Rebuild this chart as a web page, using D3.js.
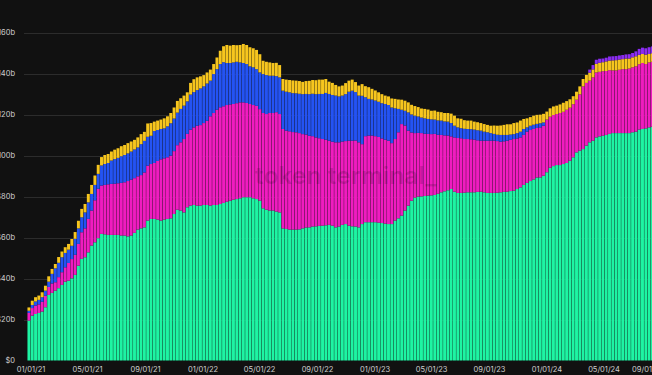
<!DOCTYPE html>
<html><head><meta charset="utf-8">
<script src="https://cdn.jsdelivr.net/npm/d3@7"></script>
<style>
html,body{margin:0;padding:0;background:#111111;}
svg{display:block;}
</style></head>
<body>
<svg id="chart" width="652" height="375"></svg>
<script>
// Weekly stablecoin supply (billions USD), first week starting 2020-12-28
const firstWeek = "2020-12-28";
const seriesNames = ["Tether", "USD Coin", "Binance USD", "Dai", "Ethena USDe"];
const seriesColors = ["#1ef4a3", "#f01cc0", "#2453f3", "#f7c61e", "#8b2cf2"];

const tether = [19.5,21.9,22.7,23.2,23.9,26.0,32.0,33.0,34.1,35.3,36.9,38.5,39.0,40.1,41.8,46.3,49.6,50.4,52.8,56.1,57.7,59.7,61.8,61.6,61.3,61.3,61.3,61.3,61.0,61.0,60.6,61.0,62.3,63.9,64.5,65.0,68.3,69.1,
69.1,68.8,68.3,68.8,69.1,69.4,71.5,73.6,73.2,72.3,74.8,75.6,75.9,75.6,75.6,75.9,75.9,75.6,75.9,75.9,76.4,76.9,77.5,78.0,78.5,78.8,79.2,79.7,79.7,79.7,79.2,78.8,78.0,74.3,73.6,73.2,73.2,72.7,72.3,
64.5,64.2,63.9,63.9,63.9,64.0,64.5,64.9,65.0,65.4,65.5,65.7,65.8,66.0,66.2,65.8,65.0,65.4,66.2,66.6,65.8,65.5,65.4,65.0,66.6,67.5,67.5,67.5,67.5,67.3,67.1,66.8,66.6,66.6,68.3,69.4,70.7,
73.2,75.6,78.0,79.5,80.0,80.1,80.3,80.5,80.6,80.8,81.4,82.1,82.6,83.1,83.7,82.4,81.8,81.8,81.9,82.1,82.1,82.1,82.3,82.4,82.1,81.8,81.8,81.8,81.9,82.1,82.3,82.4,82.7,82.9,83.7,84.5,85.7,86.7,
87.6,88.4,89.3,89.4,90.2,91.9,94.1,94.9,95.4,95.4,95.9,96.4,97.5,99.2,101.6,102.4,103.2,104.9,106.5,107.3,108.9,109.4,109.7,110.1,110.6,111.0,111.0,111.0,111.0,111.0,111.0,111.4,111.7,112.7,113.0,113.3,113.8,114.1];

const usdCoin = [3.7,3.7,4.1,4.2,4.8,5.6,3.9,4.6,4.1,5.4,6.2,7.0,8.6,9.4,9.8,10.6,13.0,14.1,16.3,17.1,20.5,24.1,23.6,24.1,24.7,24.9,25.0,25.2,25.7,26.0,27.0,27.3,26.7,26.0,26.0,26.8,26.8,26.8,
27.3,28.6,29.9,29.9,30.1,30.6,30.7,31.5,33.3,35.8,35.8,37.1,37.9,39.0,39.3,40.0,41.1,43.6,44.9,46.5,47.2,47.2,47.2,47.0,46.7,46.8,46.8,46.3,46.0,45.5,45.5,45.5,44.7,46.5,46.7,47.6,47.6,48.5,48.0,
48.5,48.0,48.0,47.6,47.5,47.0,46.0,45.4,44.7,44.1,43.4,42.8,42.3,41.8,41.1,41.0,41.5,41.1,40.7,40.5,41.5,41.8,42.0,41.5,39.0,42.0,42.3,42.3,42.0,41.8,41.3,41.0,40.7,39.5,39.8,42.0,44.7,
41.5,36.6,33.3,31.5,31.1,30.9,30.4,30.1,29.9,29.8,28.8,28.0,27.3,26.7,25.7,26.5,26.8,26.7,26.2,26.0,25.9,25.7,25.2,24.9,25.2,25.5,25.5,25.5,25.2,24.7,24.7,24.9,25.0,25.2,24.7,24.4,24.4,25.0,
24.9,24.6,24.2,24.4,24.4,25.7,24.9,24.9,24.9,25.4,25.5,26.0,25.9,25.9,25.7,27.5,30.6,30.6,30.1,30.9,31.7,31.5,31.5,31.2,31.1,30.6,30.6,30.9,31.2,31.2,31.5,31.7,31.9,31.9,32.2,31.4,31.7,31.7];

const binanceUsd = [1.1,1.5,2.0,2.2,2.2,2.5,2.6,4.7,6.8,7.0,7.3,7.0,6.5,6.5,7.8,7.6,7.3,7.8,8.1,8.1,7.5,7.3,9.8,10.2,10.4,11.4,12.0,12.4,13.0,13.3,13.5,13.7,14.0,14.1,15.1,15.4,14.1,13.8,
15.6,15.1,14.8,14.6,15.1,15.8,15.9,15.9,16.3,16.3,15.9,17.1,17.2,17.4,17.9,17.9,18.2,17.4,19.0,19.8,21.1,21.5,20.5,20.2,20.3,20.2,19.5,19.2,19.0,18.4,18.4,17.9,17.9,19.0,19.0,18.2,18.2,17.6,17.9,
18.7,19.0,19.0,19.0,19.0,19.2,19.5,19.8,20.3,20.7,21.1,21.6,22.0,22.8,22.8,22.8,22.8,22.4,22.4,22.9,23.9,24.4,23.6,22.8,23.6,19.0,17.9,17.6,17.4,17.2,17.2,17.4,17.4,17.4,15.0,11.4,7.0,
7.2,8.9,8.8,8.5,8.0,7.6,7.5,7.3,7.2,7.0,7.0,7.0,6.8,6.8,6.5,5.7,5.2,4.9,5.0,4.9,4.9,4.9,4.9,4.9,4.4,4.1,3.7,3.3,3.1,3.3,3.1,2.8,2.6,2.4,2.6,2.8,2.9,2.1,
2.1,2.1,2.0,2.0,1.6,0,0,0,0,0,0,0,0,0,0,0,0,0,0,0,0,0,0,0,0,0,0,0,0,0,0,0,0,0,0,0,0,0];

const dai = [1.6,2.1,2.1,2.1,2.4,2.4,2.6,2.4,2.1,2.8,2.8,2.8,2.8,3.3,3.3,3.7,4.1,4.1,4.1,4.4,4.6,4.4,4.1,4.4,4.4,4.4,4.6,4.7,4.9,4.9,5.0,4.9,4.7,4.9,4.9,4.4,6.5,6.2,
4.6,4.6,4.6,4.9,4.9,5.0,5.4,5.7,5.2,4.9,4.4,5.7,6.3,6.2,5.9,5.5,5.4,5.4,4.9,5.7,6.5,7.8,8.8,8.5,8.5,8.1,8.5,9.3,9.3,9.3,9.3,9.4,8.9,6.5,6.5,6.5,6.2,6.5,6.0,
5.7,5.9,6.0,6.2,6.2,6.2,6.0,6.3,6.5,6.7,6.8,7.0,7.0,6.8,6.0,5.9,5.2,4.9,4.9,5.4,5.4,5.4,4.9,4.9,5.7,5.4,5.7,5.2,4.9,4.6,4.4,4.1,4.2,4.4,4.6,4.6,4.9,
4.9,4.9,4.7,4.7,4.6,4.4,4.6,4.6,4.2,4.4,4.2,4.1,4.1,4.2,4.6,4.9,4.4,4.6,4.2,4.1,4.2,3.9,3.9,3.7,3.7,3.6,3.6,4.1,4.4,4.6,4.9,5.2,5.0,5.4,5.2,5.4,4.9,4.4,
4.2,4.4,4.4,4.2,4.2,3.9,4.1,4.2,4.1,4.2,4.4,4.2,4.1,3.9,3.9,3.9,3.6,3.9,3.9,3.9,4.2,4.4,4.4,4.7,4.7,4.9,5.0,5.0,4.9,5.2,4.9,4.9,4.9,4.6,4.4,4.6,4.1,4.2];

// Ethena USDe appears from week index 170 onward
const usdeFirstWeekIndex = 170;
const usde = [1.5,2.1,2.0,2.0,1.8,1.8,2.0,2.0,2.0,2.0,2.0,2.0,2.1,2.1,2.4,2.9,3.1,3.1,3.3,3.3];

const yTicks = [0,20,40,60,80,100,120,140,160];
const xTickDates = ["2021-01-01","2021-05-01","2021-09-01","2022-01-01","2022-05-01","2022-09-01",
  "2023-01-01","2023-05-01","2023-09-01","2024-01-01","2024-05-01","2024-09-01"];

// ---- build table ----
const parse = d3.utcParse("%Y-%m-%d");
const start = parse(firstWeek);
const keys = ["tether","usdCoin","binanceUsd","dai","usde"];
const table = tether.map((v, i) => ({
  date: d3.utcDay.offset(start, 7 * i),
  tether: v,
  usdCoin: usdCoin[i],
  binanceUsd: binanceUsd[i],
  dai: dai[i],
  usde: i >= usdeFirstWeekIndex ? (usde[i - usdeFirstWeekIndex] || 0) : 0
}));

const svg = d3.select("#chart");
const W = 652, H = 375;
svg.append("rect").attr("width", W).attr("height", H).attr("fill", "#111111");

const x = d3.scaleUtc().domain([parse("2021-01-01"), parse("2024-01-01")]).range([31, 547]);
const y = d3.scaleLinear().domain([0, 160]).range([360.5, 32.7]);
const step = x(d3.utcDay.offset(start, 7)) - x(start);
const barW = step - 0.35;

// grid
svg.append("g").selectAll("line").data(yTicks.filter(t => t > 0)).join("line")
  .attr("x1", 24).attr("x2", W)
  .attr("y1", d => Math.round(y(d)) + 0.5).attr("y2", d => Math.round(y(d)) + 0.5)
  .attr("stroke", "#2c2c2c").attr("stroke-width", 1);

// bars
const stack = d3.stack().keys(keys)(table);
const g = svg.append("g");
stack.forEach((layer, li) => {
  g.append("g").attr("fill", seriesColors[li])
    .selectAll("rect").data(layer.filter(d => d[1] - d[0] > 0)).join("rect")
    .attr("x", d => x(d.data.date) - step / 2)
    .attr("width", barW)
    .attr("y", d => y(d[1]))
    .attr("height", d => y(d[0]) - y(d[1]));
});

// watermark
svg.append("text")
  .attr("x", 346).attr("y", 184)
  .attr("text-anchor", "middle")
  .attr("font-family", "Inter, 'Open Sans', sans-serif")
  .attr("font-weight", 600)
  .attr("font-size", 24)
  .attr("letter-spacing", 0.3)
  .attr("fill", "#000").attr("fill-opacity", 0.17)
  .text("token terminal_");

// y labels
const fmtY = d => d === 0 ? "$0" : "$" + d + "b";
svg.append("g").selectAll("text").data(yTicks).join("text")
  .attr("x", 15).attr("y", d => y(d))
  .attr("dy", "0.35em")
  .attr("text-anchor", "end")
  .attr("font-family", "Inter, sans-serif")
  .attr("font-size", 7.5)
  .attr("fill", "#cfcfcf")
  .text(fmtY);

// x labels
const fmtX = d3.utcFormat("%m/%d/%y");
svg.append("g").selectAll("text").data(xTickDates.map(parse)).join("text")
  .attr("x", d => Math.min(x(d), 648))
  .attr("y", 372)
  .attr("text-anchor", "middle")
  .attr("font-family", "Inter, sans-serif")
  .attr("font-size", 7.5)
  .attr("fill", "#cfcfcf")
  .text(fmtX);
</script>
</body></html>
